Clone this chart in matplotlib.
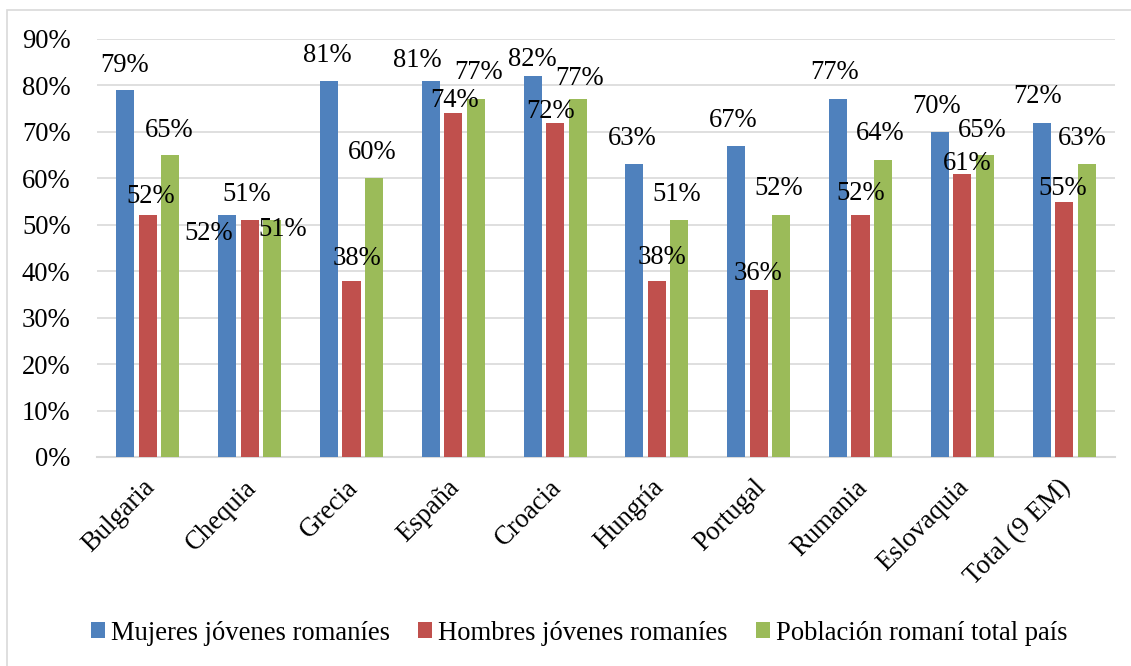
import matplotlib
matplotlib.use("Agg")
import matplotlib.pyplot as plt
from matplotlib.patches import Rectangle
from matplotlib.transforms import ScaledTranslation
import numpy as np

# --- data -------------------------------------------------------------
countries = ["Bulgaria", "Chequia", "Grecia", "España", "Croacia",
             "Hungría", "Portugal", "Rumania", "Eslovaquia", "Total (9 EM)"]
series_names = ["Mujeres jóvenes romaníes",
                "Hombres jóvenes romaníes",
                "Población romaní total país"]
mujeres = [79, 52, 81, 81, 82, 63, 67, 77, 70, 72]
hombres = [52, 51, 38, 74, 72, 38, 36, 52, 61, 55]
poblacion = [65, 51, 60, 77, 77, 51, 52, 64, 65, 63]
y_ticks = [0, 10, 20, 30, 40, 50, 60, 70, 80, 90]

# --- styling ------------------------------------------------------------
colors = ["#4F81BD", "#C0504D", "#9BBB59"]
grid_color = "#D9D9D9"
FONT = "Liberation Serif"
FS = 19.2
DPI = 100

# label offsets (dx, dy) in pixels from each bar's top centre, per series
label_offsets = [
    [(-1, 25), (-19, -18), (-2, 25), (-13, 20), (0, 17),
     (-2, 26), (-3, 25), (-3, 27), (-3, 25), (-4, 26)],
    [(3, 19), (-3, 26), (5, 22), (1, 13), (-5, 11),
     (5, 23), (-1, 16), (0, 22), (5, 10), (-1, 13)],
    [(-1, 25), (10, -9), (-2, 26), (3, 27), (2, 21),
     (-3, 26), (-3, 27), (-3, 26), (-3, 25), (-4, 26)],
]

plt.rcParams["font.family"] = [FONT, "DejaVu Serif"]

fig = plt.figure(figsize=(11.31, 6.66), dpi=DPI)
W, H = 1131, 666
ax = fig.add_axes([97 / W, 1 - 457 / H, (1115 - 97) / W, (457 - 39) / H])

x = np.arange(len(countries))
bar_w = 0.178
step = 0.221
all_series = [mujeres, hombres, poblacion]

for k, (vals, name, col) in enumerate(zip(all_series, series_names, colors)):
    pos = x + (k - 1) * step
    ax.bar(pos, vals, width=bar_w, color=col, label=name, zorder=3)
    for i, (p, v) in enumerate(zip(pos, vals)):
        dx, dy = label_offsets[k][i]
        ax.annotate(f"{v}%", xy=(p, v), xytext=(dx * 72 / DPI, dy * 72 / DPI),
                    textcoords="offset points", ha="center", va="center",
                    fontsize=FS, color="black", zorder=5)

ax.set_xlim(-0.5, len(countries) - 0.5)
ax.set_ylim(0, 90)
ax.set_yticks(y_ticks)
ax.set_yticklabels([f"{t}%" for t in y_ticks], fontsize=FS)
ax.tick_params(axis="y", length=0, pad=19)
ax.yaxis.grid(True, color=grid_color, linewidth=1.2, zorder=0)
ax.set_axisbelow(True)

ax.set_xticks(x)
ax.set_xticklabels(countries, fontsize=FS, rotation=45, ha="right",
                   va="top", rotation_mode="anchor")
ax.tick_params(axis="x", length=0, pad=13)
shift = ScaledTranslation(-6 / DPI, 0, fig.dpi_scale_trans)
for lbl in ax.get_xticklabels():
    lbl.set_transform(lbl.get_transform() + shift)

for side in ["top", "right", "left"]:
    ax.spines[side].set_visible(False)
ax.spines["bottom"].set_color(grid_color)
ax.spines["bottom"].set_linewidth(1.5)

fig.legend(loc="center", bbox_to_anchor=(579 / W, 1 - 633 / H),
           ncol=3, frameon=False, fontsize=FS,
           handlelength=0.52, handleheight=0.52, handletextpad=0.23,
           columnspacing=1.06)

# thin outer frame of the chart area
fig.patches.append(Rectangle((7 / W, -0.05), 1.1, 1 - 10 / H + 0.05,
                             transform=fig.transFigure, fill=False,
                             edgecolor=grid_color, linewidth=1.2,
                             zorder=0))

fig.savefig("out.png", dpi=DPI)
